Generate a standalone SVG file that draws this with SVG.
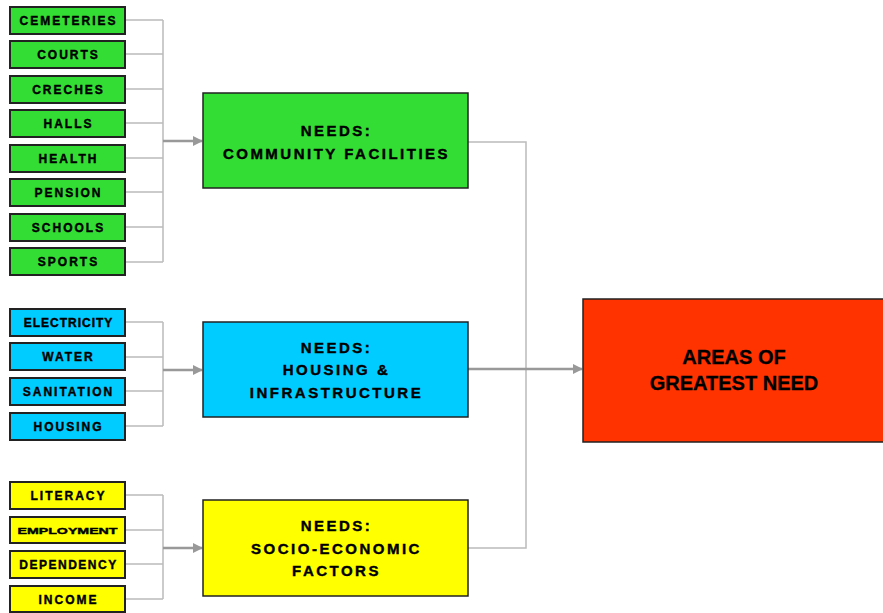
<svg xmlns="http://www.w3.org/2000/svg" width="883" height="613" viewBox="0 0 883 613">
<defs>
<marker id="ah" viewBox="0 0 10 10" refX="9" refY="5" markerWidth="4" markerHeight="4" orient="auto"><path d="M0,0L10,5L0,10z" fill="#999"/></marker>
<style>
.sm{stroke:#222;stroke-width:2}
.big{stroke:#222;stroke-width:1.5}
.g{fill:#33dd33}.c{fill:#00ccff}.y{fill:#ffff00}.r{fill:#ff3300}
.t{font-family:"Liberation Sans",Arial,sans-serif;font-weight:bold;fill:#000;stroke:#000;stroke-width:0.4;text-anchor:middle}
.ts{font-size:12px;letter-spacing:2px}
.tb{font-size:15px;letter-spacing:2.5px}
.tr{font-size:20px;stroke-width:0.3}
.ln{fill:none;stroke:#bbb;stroke-width:1.5}
.ar{fill:none;stroke:#999;stroke-width:2.5;marker-end:url(#ah)}
</style>
</defs>
<rect width="883" height="613" fill="#fff"/>
<g id="connectors">
<path class="ln" d="M125,20H163M125,54H163M125,89H163M125,123H163M125,158H163M125,192H163M125,227H163M125,262H163M163,20V262"/>
<path class="ar" d="M163,141H202"/>
<path class="ln" d="M125,322H163M125,357H163M125,391H163M125,426H163M163,322V426"/>
<path class="ar" d="M163,370H202"/>
<path class="ln" d="M125,495H163M125,530H163M125,564H163M125,599H163M163,495V599"/>
<path class="ar" d="M163,548H202"/>
<path class="ln" d="M468,142H526V548H468"/>
<path class="ar" d="M468,369H582"/>
</g>
<g id="n-cemeteries"><rect class="sm g" x="10" y="7" width="115" height="27"/><text class="t ts" x="68.5" y="25">CEMETERIES</text></g>
<g id="n-courts"><rect class="sm g" x="10" y="41" width="115" height="27"/><text class="t ts" x="68.5" y="59">COURTS</text></g>
<g id="n-creches"><rect class="sm g" x="10" y="76" width="115" height="27"/><text class="t ts" x="68.5" y="94">CRECHES</text></g>
<g id="n-halls"><rect class="sm g" x="10" y="110" width="115" height="27"/><text class="t ts" x="68.5" y="128">HALLS</text></g>
<g id="n-health"><rect class="sm g" x="10" y="145" width="115" height="27"/><text class="t ts" x="68.5" y="163">HEALTH</text></g>
<g id="n-pension"><rect class="sm g" x="10" y="179" width="115" height="27"/><text class="t ts" x="68.5" y="197">PENSION</text></g>
<g id="n-schools"><rect class="sm g" x="10" y="214" width="115" height="27"/><text class="t ts" x="68.5" y="232">SCHOOLS</text></g>
<g id="n-sports"><rect class="sm g" x="10" y="248" width="115" height="27"/><text class="t ts" x="68.5" y="266">SPORTS</text></g>
<g id="n-community"><rect class="big g" x="203" y="93" width="265" height="95"/><text class="t tb" x="336.5" y="136">NEEDS:</text><text class="t tb" x="336.5" y="159">COMMUNITY FACILITIES</text></g>
<g id="n-electricity"><rect class="sm c" x="10" y="309" width="115" height="27"/><text class="t ts" x="68.5" y="327" style="letter-spacing:1px">ELECTRICITY</text></g>
<g id="n-water"><rect class="sm c" x="10" y="343" width="115" height="27"/><text class="t ts" x="68.5" y="361">WATER</text></g>
<g id="n-sanitation"><rect class="sm c" x="10" y="378" width="115" height="27"/><text class="t ts" x="68.5" y="396">SANITATION</text></g>
<g id="n-housing"><rect class="sm c" x="10" y="413" width="115" height="27"/><text class="t ts" x="68.5" y="431">HOUSING</text></g>
<g id="n-infra"><rect class="big c" x="203" y="322" width="265" height="95"/><text class="t tb" x="336.5" y="353">NEEDS:</text><text class="t tb" x="336.5" y="375">HOUSING &amp;</text><text class="t tb" x="336.5" y="398">INFRASTRUCTURE</text></g>
<g id="n-literacy"><rect class="sm y" x="10" y="482" width="115" height="27"/><text class="t ts" x="68.5" y="500">LITERACY</text></g>
<g id="n-employment"><rect class="sm y" x="10" y="517" width="115" height="26"/><text class="t" style="font-size:9px" x="67.5" y="534" textLength="100" lengthAdjust="spacingAndGlyphs">EMPLOYMENT</text></g>
<g id="n-dependency"><rect class="sm y" x="10" y="551" width="115" height="27"/><text class="t ts" x="68.5" y="569" style="letter-spacing:1.5px">DEPENDENCY</text></g>
<g id="n-income"><rect class="sm y" x="10" y="586" width="115" height="26"/><text class="t ts" x="68.5" y="604">INCOME</text></g>
<g id="n-socio"><rect class="big y" x="203" y="500" width="265" height="96"/><text class="t tb" x="336.5" y="531">NEEDS:</text><text class="t tb" x="336.5" y="554">SOCIO-ECONOMIC</text><text class="t tb" x="336.5" y="576">FACTORS</text></g>
<g id="n-areas"><rect class="big r" x="583" y="299" width="305" height="143"/><text class="t tr" x="734" y="364">AREAS OF</text><text class="t tr" x="734" y="390">GREATEST NEED</text></g>
</svg>
